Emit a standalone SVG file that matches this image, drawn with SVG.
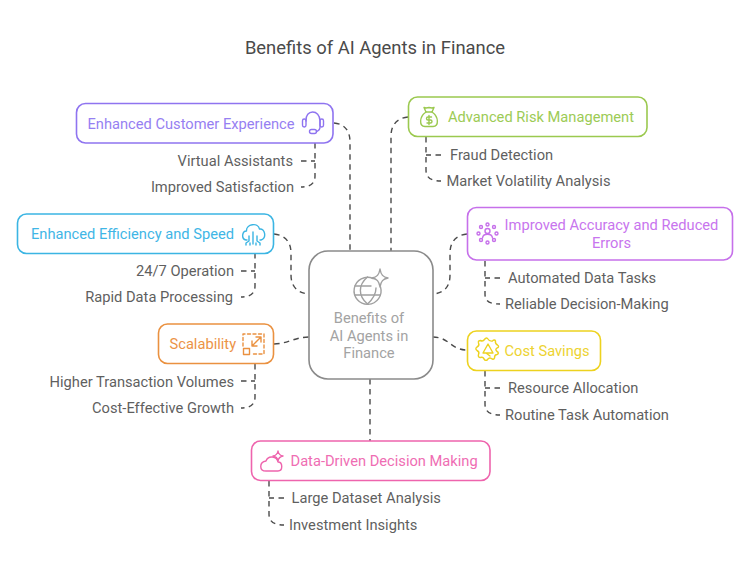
<svg xmlns="http://www.w3.org/2000/svg" width="750" height="569" viewBox="0 0 750 569">
<style>
text{font-family:Roboto,"Liberation Sans",sans-serif;font-size:14.68px}
.t{text-anchor:middle;font-size:18.4px;fill:#4a4a4a}
.s{fill:#5f5f5f}
.e{text-anchor:end}
.c{fill:none;stroke:#4a4a4a;stroke-width:1.4;stroke-dasharray:5.5 4.5}
.b{fill:#fff;stroke-width:1.6}
.i{fill:none;stroke-width:1.4;stroke-linecap:round;stroke-linejoin:round}
</style>
<rect width="750" height="569" fill="#fff"/>
<text class="t" x="375" y="54">Benefits of AI Agents in Finance</text>
<g id="connectors">
<path class="c" d="M334 123C345 124 350 131 350 142V251"/>
<path class="c" d="M408 117C397 118 391 125 391 136V251"/>
<path class="c" d="M274 234C285 235 291 242 291 253V275C291 286 297 293 309 294"/>
<path class="c" d="M467 234C456 235 450 242 450 253V275C450 286 445 293 433 294"/>
<path class="c" d="M274 344C287 344 295 337 309 337"/>
<path class="c" d="M433 337C449 337 451 350 467 350"/>
<path class="c" d="M370 379V441"/>
<path class="c" d="M315 143V176C315 183 311 187 301 187M301 161H315"/>
<path class="c" d="M255 253V286C255 293 251 297 241 297M241 271H255"/>
<path class="c" d="M255 364V397C255 404 251 408 241 408M241 381H255"/>
<path class="c" d="M426 137V170C426 177 430 181 441 181M441 155H426"/>
<path class="c" d="M485 261V294C485 301 489 304 500 304M500 278H485"/>
<path class="c" d="M485 371V404C485 411 489 415 500 415M500 388H485"/>
<path class="c" d="M269 481V514C269 521 273 525 284 525M284 498H269"/>
</g>
<g id="center">
<rect class="b" x="309" y="251" width="124" height="128" rx="19" stroke="#8a8a8a"/>
<g class="i" stroke="#a0a0a0">
<path d="M373 278.500A13.500 13.500 0 1 0 380.500 287"/>
<path d="M367.500 277C358 285 358 296 367.500 304C373 299 376 293 376 288"/>
<path d="M355 286H371M355 295H380"/>
<path d="M380 269C381 275 383 277 388 278C383 279 381 281 380 287C379 281 377 279 372 278C377 277 379 275 380 269Z"/>
</g>
<g fill="#a3a3a3" text-anchor="middle">
<text x="369" y="323">Benefits of</text>
<text x="369" y="341">AI Agents in</text>
<text x="369" y="358">Finance</text>
</g>
</g>
<g id="customer-experience">
<rect class="b" x="76.500" y="103.500" width="256.500" height="39.500" rx="9" stroke="#8f74f0"/>
<text x="87.500" y="129" fill="#9680f2">Enhanced Customer Experience</text>
<g class="i" stroke="#8f74f0">
<path d="M306 121C305 109 320 109 320 121V127C320 130 318 131 316.500 131.500"/>
<rect x="302.500" y="119" width="3.500" height="8" rx="1.700"/>
<rect x="320" y="119" width="3.500" height="8" rx="1.700"/>
<rect x="309.500" y="129.500" width="7" height="4" rx="2"/>
</g>
<text class="s e" x="293" y="166">Virtual Assistants</text>
<text class="s e" x="294" y="192">Improved Satisfaction</text>
</g>
<g id="efficiency-speed">
<rect class="b" x="17.500" y="214" width="256" height="39.500" rx="9" stroke="#3bb5e3"/>
<text x="31" y="239" fill="#3fb6e6">Enhanced Efficiency and Speed</text>
<g class="i" stroke="#3bb5e3">
<path d="M247 240H246C241 239 242 231 246.500 231C246 224 258 222 259.500 229C265 228 267 238 261 240H260"/>
<path d="M253 232V244M249 236V241L246 243V245M257 236V241L260 243V245M250 243V245M256 243V245"/>
</g>
<text class="s e" x="234" y="276">24/7 Operation</text>
<text class="s e" x="233" y="302">Rapid Data Processing</text>
</g>
<g id="scalability">
<rect class="b" x="158.500" y="324" width="115" height="39.500" rx="9" stroke="#ea9140"/>
<text x="169.500" y="349" fill="#ec9346">Scalability</text>
<g class="i" stroke="#ea9140">
<path d="M243 346V334H264V354H252" stroke-dasharray="3 2.500"/>
<rect x="243.500" y="348.500" width="6" height="6"/>
<path d="M252 346L261 337M256 337H261V342M252 341V346H257"/>
</g>
<text class="s e" x="234" y="387">Higher Transaction Volumes</text>
<text class="s e" x="234" y="413">Cost-Effective Growth</text>
</g>
<g id="risk-management">
<rect class="b" x="408.500" y="97" width="238.500" height="39.500" rx="9" stroke="#9bc94f"/>
<text x="448" y="122" fill="#9ccb55">Advanced Risk Management</text>
<g class="i" stroke="#9bc94f">
<path d="M426 108L424 107.500L426 112H432L434 107.500L432 108L429 107.500Z"/>
<path d="M426 112C419 117 419 126 425 126.500H433C439 126 439 117 432 112"/>
<path d="M431.500 117H428C426 117 426 120 428 120H430.500C432.500 120 432.500 123 430.500 123H427M429 115.500V124.500"/>
</g>
<text class="s" x="450" y="160">Fraud Detection</text>
<text class="s" x="446.500" y="186">Market Volatility Analysis</text>
</g>
<g id="accuracy-errors">
<rect class="b" x="467.500" y="207.500" width="265" height="52.500" rx="9" stroke="#c670ea"/>
<g text-anchor="middle" fill="#c875ee">
<text x="611.500" y="230">Improved Accuracy and Reduced</text>
<text x="611.500" y="248">Errors</text>
</g>
<g class="i" stroke="#c670ea">
<circle cx="487.500" cy="224.500" r="1.500"/><circle cx="481" cy="227" r="1.500"/><circle cx="494" cy="227" r="1.500"/>
<circle cx="478.500" cy="233.500" r="1.500"/><circle cx="496.500" cy="233.500" r="1.500"/><circle cx="481" cy="240" r="1.500"/>
<circle cx="494" cy="240" r="1.500"/><circle cx="487.500" cy="242.500" r="1.500"/><circle cx="487.500" cy="231" r="2.500"/>
<path d="M482.500 238C483 233 492 233 492.500 238"/>
</g>
<text class="s" x="508" y="283">Automated Data Tasks</text>
<text class="s" x="505" y="309">Reliable Decision-Making</text>
</g>
<g id="cost-savings">
<rect class="b" x="467.500" y="331" width="133" height="39.500" rx="9" stroke="#edd21f"/>
<text x="504.500" y="356" fill="#edd331">Cost Savings</text>
<g class="i" stroke="#edd21f">
<path d="M487.500 338.500C489 341 490 341.500 492.500 341C493 340 495 339.500 495.500 341C495 343 495.500 344 497.500 345C499 346 499 347.500 497 348C495.500 349 495.500 350 497 351.500C499 352.500 498.500 354 497 354.500C495 354.500 494.500 355.500 494.500 358C494 359.500 492.500 359.500 491.500 358.500C490 357.500 489 357.500 487.500 359.500C486.500 361 485 360.500 484 359C483.500 357.500 482 357 480.500 357.500C478.500 357.500 478 356 478.500 354.500C479.500 352.500 479 351.500 477 350.500C475.500 349.500 475.500 348 477 347C479 346 479.500 345 478.500 343C478 341 479 340.500 480.500 340.500C482.500 341.500 483.500 341 484.500 339.500C485.500 338 486.500 337.500 487.500 338.500Z"/>
<path d="M488 344L483 353H493ZM486 353L490 356"/>
</g>
<text class="s" x="508" y="393">Resource Allocation</text>
<text class="s" x="505" y="420">Routine Task Automation</text>
</g>
<g id="data-driven">
<rect class="b" x="251.500" y="441" width="238.500" height="39.500" rx="9" stroke="#ee64ad"/>
<text x="290.500" y="466" fill="#ef6db3">Data-Driven Decision Making</text>
<g class="i" stroke="#ee64ad">
<path d="M266 471C259 471 259 462 266 461C268 455 277 456 278 462C283 462 283 471 278 471Z"/>
<path d="M278 451C278.500 454 280 455.500 283 456C280 456.500 278.500 458 278 461C277.500 458 276 456.500 273 456C276 455.500 277.500 454 278 451Z"/>
</g>
<text class="s" x="291.500" y="503">Large Dataset Analysis</text>
<text class="s" x="289" y="530">Investment Insights</text>
</g>
</svg>
